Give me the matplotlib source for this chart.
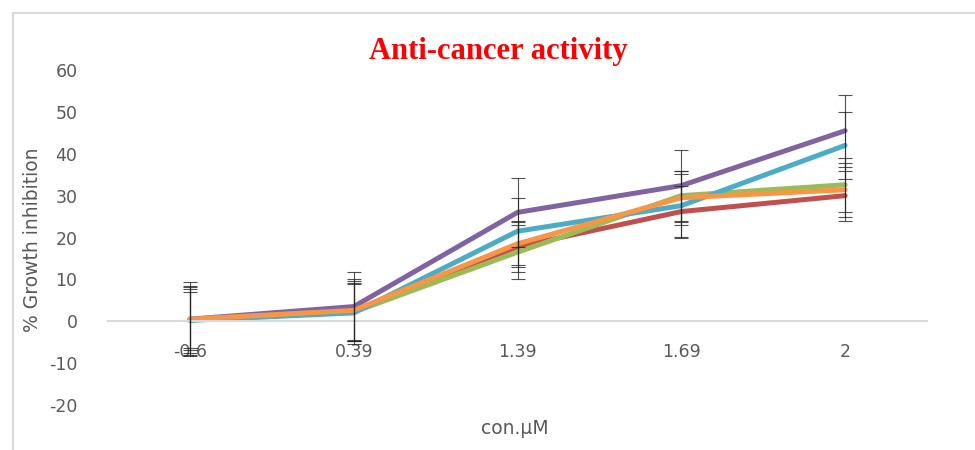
import numpy as np
import matplotlib
matplotlib.use('Agg')
import matplotlib.pyplot as plt
from matplotlib.patches import Rectangle

plt.rcParams['axes.unicode_minus'] = False

# data
conc = ['-0.6', '0.39', '1.39', '1.69', '2']
red = [0.3, 2.4, 17.8, 26.2, 30.0]
green = [0.3, 2.2, 16.5, 30.0, 32.6]
purple = [0.5, 3.5, 26.0, 32.4, 45.5]
cyan = [0.2, 2.0, 21.5, 27.6, 42.0]
orange = [0.5, 2.6, 18.5, 29.5, 31.4]

red_err = [8.0, 6.8, 6.0, 6.2, 6.0]
green_err = [6.7, 6.8, 6.5, 6.0, 6.5]
purple_err = [8.8, 8.2, 8.3, 8.6, 8.6]
cyan_err = [8.2, 7.5, 8.0, 7.5, 8.0]
orange_err = [7.3, 7.4, 5.5, 6.5, 6.5]

series = [(red, red_err, '#C0504D'),
          (green, green_err, '#9BBB59'),
          (purple, purple_err, '#8064A2'),
          (cyan, cyan_err, '#4BACC6'),
          (orange, orange_err, '#F79646')]

fig = plt.figure(figsize=(9.75, 4.5), dpi=100)
ax = fig.add_axes([108/975, 0.1, 819/975, 0.7444])

x = np.arange(len(conc))
for vals, err, c in series:
    ax.plot(x, vals, color=c, lw=3.6, solid_capstyle='round', zorder=2)
for vals, err, c in series:
    ax.errorbar(x, vals, yerr=err, fmt='none', ecolor='#262626', elinewidth=0.8,
                capsize=5, capthick=0.8, alpha=0.8, zorder=3)

ax.set_xlim(-0.5, 4.5)
ax.set_ylim(-20, 60)
ax.set_yticks(range(-20, 61, 10))
ax.set_xticks(x)
ax.set_xticklabels(conc)
for s in ['top', 'right', 'left']:
    ax.spines[s].set_visible(False)
ax.spines['bottom'].set_position(('data', 0))
ax.spines['bottom'].set_color('#D9D9D9')
ax.spines['bottom'].set_linewidth(1.5)
ax.tick_params(axis='x', length=0, pad=16, labelsize=12.5, labelcolor='#595959')
ax.tick_params(axis='y', length=0, pad=22, labelsize=12.5, labelcolor='#595959')

fig.text(33/975, 1 - 240/450, '% Growth inhibition', rotation=90, ha='center', va='center',
         fontsize=13.5, color='#595959')
fig.text(515/975, 1 - 428/450, 'con.µM', ha='center', va='center', fontsize=13.5, color='#595959')
fig.text(498/975, 1 - 52/450, 'Anti-cancer activity', ha='center', va='center',
         fontsize=22, fontweight='bold', color='#FF0000', family='Liberation Serif')

fig.patches.append(Rectangle((13/975, -0.1), 1.1, 1 - 13/450 + 0.1, transform=fig.transFigure,
                             fill=False, edgecolor='#D9D9D9', lw=1.5))

fig.savefig('out.png', dpi=100)
